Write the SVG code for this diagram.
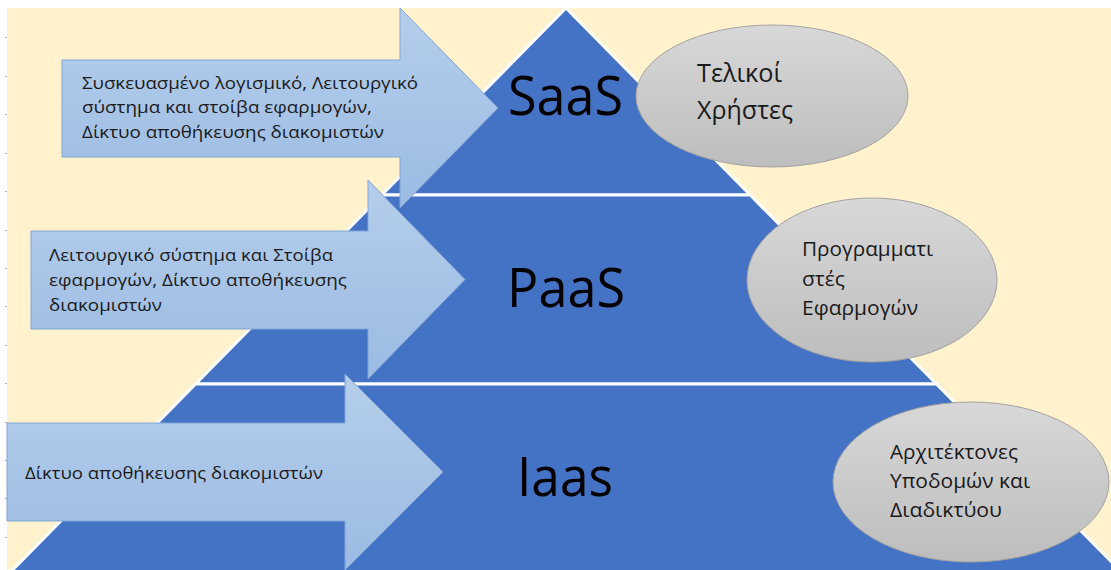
<svg xmlns="http://www.w3.org/2000/svg" width="1111" height="570" viewBox="0 0 1111 570">
  <defs>
    <linearGradient id="arrowFill" x1="0" y1="0" x2="0" y2="1">
      <stop offset="0" stop-color="#B5CEEB"/>
      <stop offset="1" stop-color="#9BBBE3"/>
    </linearGradient>
    <linearGradient id="ovalFill" x1="0" y1="0" x2="0" y2="1">
      <stop offset="0" stop-color="#D8D8D8"/>
      <stop offset="1" stop-color="#BDBDBD"/>
    </linearGradient>
  </defs>
  <style>
    .tier { fill: #4472C4; stroke: #FFFFFF; stroke-width: 3; stroke-linejoin: miter; }
    .arrow { fill: url(#arrowFill); stroke: #7FA6D7; stroke-width: 1; }
    .oval { fill: url(#ovalFill); stroke: #A3A3A3; stroke-width: 1; }
    .lbl { font-family: "Open Sans", "Noto Sans", sans-serif; fill: #1A1A1A; }
    .arrowtxt { font-size: 17px; }
    .ovaltxt { font-size: 20px; }
    .big { font-family: "Open Sans", "Noto Sans", sans-serif; font-size: 54px; fill: #000000; }
    .tick { fill: #B0B0B0; }
  </style>

  <!-- page background -->
  <rect x="0" y="0" width="1111" height="570" fill="#FFFFFF"/>
  <rect x="7" y="8" width="1104" height="562" fill="#FFF2CC"/>
  <g id="ruler">
    <rect class="tick" x="5" y="37" width="2" height="1"/>
    <rect class="tick" x="5" y="76" width="2" height="1"/>
    <rect class="tick" x="5" y="114" width="2" height="1"/>
    <rect class="tick" x="5" y="153" width="2" height="1"/>
    <rect class="tick" x="5" y="191" width="2" height="1"/>
    <rect class="tick" x="5" y="230" width="2" height="1"/>
    <rect class="tick" x="5" y="268" width="2" height="1"/>
    <rect class="tick" x="5" y="306" width="2" height="1"/>
    <rect class="tick" x="5" y="345" width="2" height="1"/>
    <rect class="tick" x="5" y="383" width="2" height="1"/>
    <rect class="tick" x="5" y="422" width="2" height="1"/>
    <rect class="tick" x="5" y="460" width="2" height="1"/>
    <rect class="tick" x="5" y="498" width="2" height="1"/>
    <rect class="tick" x="5" y="537" width="2" height="1"/>
  </g>

  <!-- pyramid tiers -->
  <g id="tier-saas">
    <polygon class="tier" points="566,8 750.2,195 381.8,195"/>
    <text class="big" x="508" y="115" textLength="115" lengthAdjust="spacingAndGlyphs">SaaS</text>
  </g>
  <g id="tier-paas">
    <polygon class="tier" points="381.8,195 750.2,195 936.4,384 195.6,384"/>
    <text class="big" x="507" y="307" textLength="118" lengthAdjust="spacingAndGlyphs">PaaS</text>
  </g>
  <g id="tier-iaas">
    <polygon class="tier" points="195.6,384 936.4,384 1149,600 -17,600"/>
    <text class="big" x="517" y="496" textLength="96" lengthAdjust="spacingAndGlyphs">Iaas</text>
  </g>

  <!-- block arrows pointing into the tiers -->
  <g id="connectors">
    <g id="arrow-saas">
      <polygon class="arrow" points="62,60 400,60 400,8 498,108 400,208 400,157 62,157"/>
      <text class="lbl arrowtxt" x="82" y="89" textLength="336" lengthAdjust="spacingAndGlyphs">Συσκευασμένο λογισμικό, Λειτουργικό</text>
      <text class="lbl arrowtxt" x="82" y="113" textLength="290" lengthAdjust="spacingAndGlyphs">σύστημα και στοίβα εφαρμογών,</text>
      <text class="lbl arrowtxt" x="82" y="138" textLength="302" lengthAdjust="spacingAndGlyphs">Δίκτυο αποθήκευσης διακομιστών</text>
    </g>
    <g id="arrow-paas">
      <polygon class="arrow" points="31,231 368,231 368,180 465,279.5 368,379 368,329 31,329"/>
      <text class="lbl arrowtxt" x="49" y="261" textLength="284" lengthAdjust="spacingAndGlyphs">Λειτουργικό σύστημα και Στοίβα</text>
      <text class="lbl arrowtxt" x="49" y="286" textLength="298" lengthAdjust="spacingAndGlyphs">εφαρμογών, Δίκτυο αποθήκευσης</text>
      <text class="lbl arrowtxt" x="49" y="311" textLength="113" lengthAdjust="spacingAndGlyphs">διακομιστών</text>
    </g>
    <g id="arrow-iaas">
      <polygon class="arrow" points="7,423 345,423 345,374 443,472 345,570 345,521 7,521"/>
      <text class="lbl arrowtxt" x="25" y="479" textLength="298" lengthAdjust="spacingAndGlyphs">Δίκτυο αποθήκευσης διακομιστών</text>
    </g>
  </g>

  <!-- user groups -->
  <g id="users-end">
    <ellipse class="oval" cx="772" cy="96" rx="136" ry="71"/>
    <text class="lbl" style="font-size:26px" x="697" y="82" textLength="85" lengthAdjust="spacingAndGlyphs">Τελικοί</text>
    <text class="lbl" style="font-size:26px" x="697" y="119" textLength="96" lengthAdjust="spacingAndGlyphs">Χρήστες</text>
  </g>
  <g id="users-developers">
    <ellipse class="oval" cx="872" cy="280" rx="125" ry="82"/>
    <text class="lbl ovaltxt" x="802" y="256" textLength="131" lengthAdjust="spacingAndGlyphs">Προγραμματι</text>
    <text class="lbl ovaltxt" x="802" y="286" textLength="43" lengthAdjust="spacingAndGlyphs">στές</text>
    <text class="lbl ovaltxt" x="802" y="315" textLength="116" lengthAdjust="spacingAndGlyphs">Εφαρμογών</text>
  </g>
  <g id="users-architects">
    <ellipse class="oval" cx="971" cy="482" rx="138" ry="80"/>
    <text class="lbl ovaltxt" x="890" y="459" textLength="128" lengthAdjust="spacingAndGlyphs">Αρχιτέκτονες</text>
    <text class="lbl ovaltxt" x="890" y="488" textLength="140" lengthAdjust="spacingAndGlyphs">Υποδομών και</text>
    <text class="lbl ovaltxt" x="890" y="517" textLength="112" lengthAdjust="spacingAndGlyphs">Διαδικτύου</text>
  </g>
</svg>
